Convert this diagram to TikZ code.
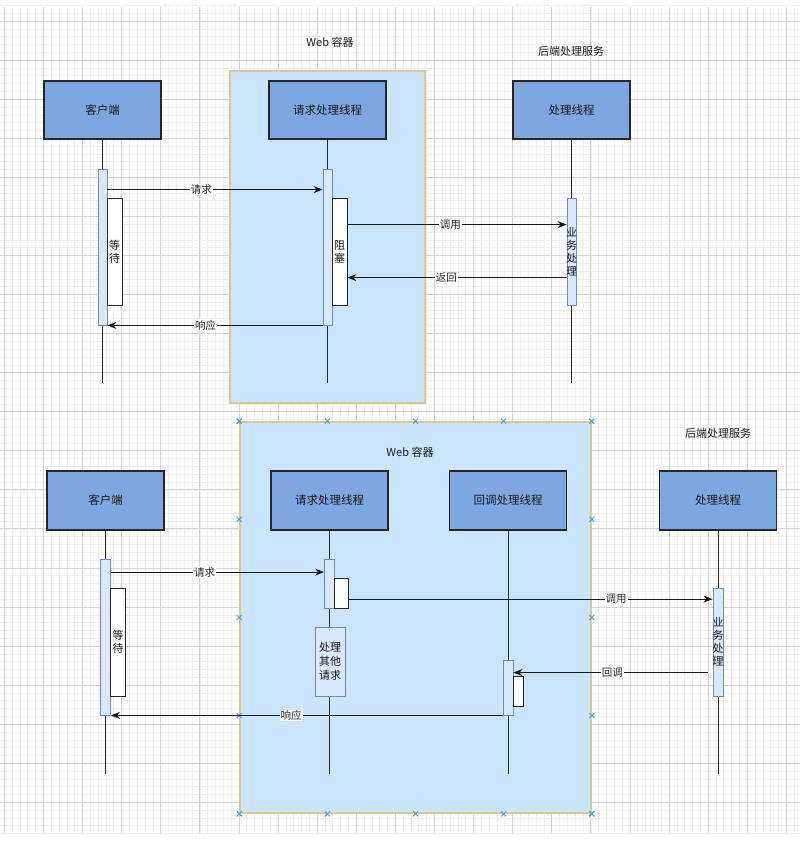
\documentclass[tikz,border=0pt]{standalone}
\usepackage{fontspec}
\setmainfont{Noto Sans CJK SC}
\usetikzlibrary{arrows.meta,calc}
\definecolor{boxblue}{HTML}{7EA6E0}
\definecolor{actfill}{HTML}{DAE8FC}
\definecolor{actdraw}{HTML}{6C8EBF}
\definecolor{contfill}{HTML}{CCE5FF}
\definecolor{contdraw}{HTML}{D8CA98}
\definecolor{gridmajor}{HTML}{D6D6D6}
\definecolor{gridminor}{HTML}{EFEFEF}
\definecolor{xmark}{HTML}{4A9FD4}
\tikzset{
  actor/.style={draw=black!85, line width=1.2pt, fill=boxblue, minimum width=117pt, minimum height=58pt, inner sep=0pt, font=\fontsize{11.5}{13}\selectfont, text=black!90},
  actbar/.style={draw=actdraw, fill=actfill, line width=0.8pt, inner sep=0pt},
  wbox/.style={draw=black!85, fill=white, line width=0.8pt, inner sep=0pt},
  vtext/.style={font=\fontsize{11}{13}\selectfont, align=center, text=black!90, inner sep=0pt},
  msg/.style={-{Stealth[length=9pt,width=7pt]}, line width=1pt, draw=black!90},
  lbl/.style={fill=white, inner sep=1pt, font=\fontsize{10.5}{12}\selectfont, text=black!85},
  life/.style={draw=black!85, line width=1pt},
  container/.style={draw=contdraw, fill=contfill, line width=1.6pt, inner sep=0pt},
  ttl/.style={font=\fontsize{11}{13}\selectfont, text=black!90}
}
\begin{document}
\begin{tikzpicture}[x=1pt,y=-1pt]
\useasboundingbox (0,0) rectangle (802,842);
\fill[white] (0,0) rectangle (802,842);
% grid
\foreach \k in {0,...,101} {
  \pgfmathsetmacro{\gx}{4.3+7.82*\k}
  \draw[gridminor, line width=0.6pt] (\gx,7) -- (\gx,833);
}
\foreach \k in {-2,...,104} {
  \pgfmathsetmacro{\gy}{21.1+7.812*\k}
  \draw[gridminor, line width=0.6pt] (0,\gy) -- (800,\gy);
}
\foreach \k in {0,...,20} {
  \pgfmathsetmacro{\gx}{4.3+39.1*\k}
  \draw[gridmajor, line width=0.8pt] (\gx,7) -- (\gx,833);
}
\foreach \k in {0,...,20} {
  \pgfmathsetmacro{\gy}{21.1+39.06*\k}
  \draw[gridmajor, line width=0.8pt] (0,\gy) -- (800,\gy);
}

%================ TOP DIAGRAM =================
\node[container, minimum width=195pt, minimum height=332pt] (web1) at (327.5,237) {};
\node[ttl] (t1) at (330,42) {Web 容器};
\node[ttl] (t2) at (571,51) {后端处理服务};

\node[actor] (c1) at (102.5,110) {客户端};
\node[actor] (r1) at (327.5,110) {请求处理线程};
\node[actor] (p1) at (571.5,110) {处理线程};

\coordinate (c1e) at (102.5,383);
\coordinate (r1e) at (327.5,383);
\coordinate (p1e) at (571.5,383);
\draw[life] (c1.south) -- (c1e);
\draw[life] (r1.south) -- (r1e);
\draw[life] (p1.south) -- (p1e);

\node[actbar, minimum width=9pt, minimum height=156pt] (ca1) at (102.5,247) {};
\node[wbox, minimum width=15pt, minimum height=107pt] (w1) at (114.5,251.5) {};
\node[vtext] (w1t) at (w1.center) {等\\待};
\node[actbar, minimum width=9pt, minimum height=156pt] (ra1) at (327.5,247) {};
\node[wbox, minimum width=15pt, minimum height=107pt] (b1) at (339.5,251.5) {};
\node[vtext] (b1t) at (b1.center) {阻\\塞};
\node[actbar, minimum width=9pt, minimum height=107pt] (pa1) at (571.5,251.5) {};
\node[vtext] (pa1t) at (pa1.center) {业\\务\\处\\理};

\draw[msg] ($(ca1.north east)+(0,21)$) -- node[lbl, pos=0.437] {请求} ($(ra1.north west)+(0,21)$);
\draw[msg] ($(b1.north east)+(0,27)$) -- node[lbl, pos=0.47] {调用} ($(pa1.north west)+(0,27)$);
\draw[msg] ($(pa1.north west)+(0,80)$) -- node[lbl, pos=0.548] {返回} ($(b1.north east)+(0,80)$);
\draw[msg] (ra1.south west) -- node[lbl, pos=0.544] {响应} (ca1.south east);

%================ BOTTOM DIAGRAM =================
\node[container, minimum width=351pt, minimum height=391pt] (web2) at (415.5,617.5) {};
\foreach \t in {0,0.25,0.5,0.75,1} {
  \foreach \a/\b in {north west/north east, south west/south east, north west/south west, north east/south east} {
    \draw[xmark, line width=0.9pt] ($(web2.\a)!\t!(web2.\b)+(-2.5,-2.5)$) -- ++(5,5)
      ($(web2.\a)!\t!(web2.\b)+(-2.5,2.5)$) -- ++(5,-5);
  }
}
\node[ttl] (t3) at (410,452) {Web 容器};
\node[ttl] (t4) at (718,433) {后端处理服务};

\node[actor, minimum height=59pt] (c2) at (105.5,500.5) {客户端};
\node[actor, minimum height=59pt] (r2) at (329.5,500.5) {请求处理线程};
\node[actor, minimum height=59pt] (cb2) at (508,500.5) {回调处理线程};
\node[actor, minimum height=59pt] (p2) at (718,500.5) {处理线程};

\coordinate (c2e) at (105.5,774);
\coordinate (r2e) at (329.5,774);
\coordinate (cb2e) at (508,774);
\coordinate (p2e) at (718,774);
\draw[life] (c2.south) -- (c2e);
\draw[life] (r2.south) -- (r2e);
\draw[life] (cb2.south) -- (cb2e);
\draw[life] (p2.south) -- (p2e);

\node[actbar, minimum width=10pt, minimum height=156pt] (ca2) at (105.5,637) {};
\node[wbox, minimum width=15pt, minimum height=108pt] (w2) at (118,642) {};
\node[vtext] (w2t) at (w2.center) {等\\待};
\node[actbar, minimum width=10pt, minimum height=49pt] (ra2) at (329.5,583.5) {};
\node[wbox, minimum width=14pt, minimum height=30pt] (s2) at (341.5,593) {};
\node[actbar, minimum width=30pt, minimum height=69pt, vtext, font=\fontsize{11}{14}\selectfont] (o2) at (330,661.5) {处理\\其他\\请求};
\node[actbar, minimum width=10pt, minimum height=55pt] (cba2) at (508,687.5) {};
\node[wbox, minimum width=10pt, minimum height=30pt] (s3) at (518,691) {};
\node[actbar, minimum width=10pt, minimum height=108pt] (pa2) at (718,642) {};
\node[vtext] (pa2t) at (pa2.center) {业\\务\\处\\理};

\draw[msg] ($(ca2.north east)+(0,13.5)$) -- node[lbl, pos=0.44] {请求} ($(ra2.north west)+(0,13.5)$);
\draw[msg] ($(s2.north east)+(0,21.5)$) -- node[lbl, pos=0.735] {调用} ($(pa2.north west)+(0,11.5)$);
\draw[msg] ($(pa2.north west)+(-5,85)$) -- node[lbl, pos=0.49] {回调} ($(cba2.north east)+(0,13)$);
\draw[msg] (cba2.south west) -- node[lbl, pos=0.54] {响应} (ca2.south east);
\end{tikzpicture}
\end{document}
